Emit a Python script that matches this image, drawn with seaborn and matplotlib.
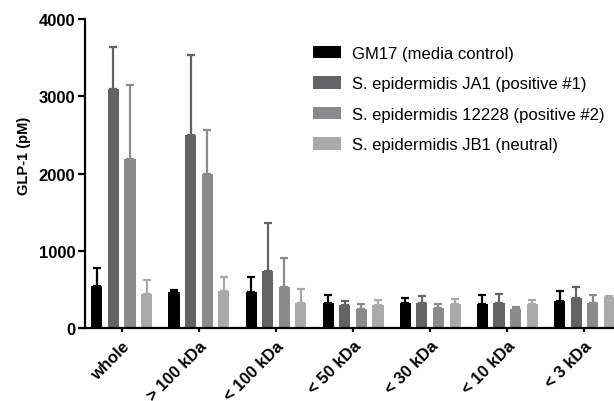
import matplotlib
matplotlib.use("Agg")
import matplotlib.pyplot as plt
import seaborn as sns
import pandas as pd
import numpy as np

categories = ["whole", "> 100 kDa", "< 100 kDa", "< 50 kDa", "< 30 kDa", "< 10 kDa", "< 3 kDa"]
series = ["GM17 (media control)", "S. epidermidis JA1 (positive #1)",
          "S. epidermidis 12228 (positive #2)", "S. epidermidis JB1 (neutral)"]
gm17 = [550, 470, 475, 330, 327, 318, 348]
gm17_err = [230, 30, 190, 95, 60, 108, 134]
ja1 = [3100, 2500, 740, 301, 331, 327, 391]
ja1_err = [540, 1030, 625, 52, 86, 112, 142]
s12228 = [2190, 1990, 530, 254, 267, 254, 331]
s12228_err = [950, 570, 373, 56, 51, 17, 95]
jb1 = [440, 486, 327, 301, 318, 310, 410]
jb1_err = [183, 176, 176, 64, 65, 55, 12]
colors = ["#000000", "#636365", "#8b8b8d", "#aaaaaa"]

vals = [gm17, ja1, s12228, jb1]
errs = [gm17_err, ja1_err, s12228_err, jb1_err]
rows = []
for s, v in zip(series, vals):
    for c, y in zip(categories, v):
        rows.append({"cat": c, "series": s, "val": y})
df = pd.DataFrame(rows)

sns.set_style("white")
plt.rcParams["font.family"] = ["Liberation Sans", "DejaVu Sans"]
plt.rcParams["text.color"] = "black"
plt.rcParams["xtick.color"] = "black"
plt.rcParams["ytick.color"] = "black"
plt.rcParams["axes.labelcolor"] = "black"

fig = plt.figure(figsize=(6.14, 4.02), dpi=100)
ax = fig.add_axes([85/614, 1-329.3/402, 538/614, (329.3-20)/402])

sns.barplot(data=df, x="cat", y="val", hue="series", order=categories,
            hue_order=series, palette=colors, errorbar=None, width=0.86,
            gap=0.33, saturation=1, ax=ax, linewidth=0)

bar_containers = list(ax.containers)
for i, cont in enumerate(bar_containers):
    xs = [p.get_x() + p.get_width()/2 for p in cont.patches]
    hs = [p.get_height() for p in cont.patches]
    ax.errorbar(xs, hs, yerr=[np.zeros(len(hs)), errs[i]], fmt="none",
                ecolor=colors[i], elinewidth=1.6, capsize=3.2, capthick=1.6,
                zorder=1)

ax.set_xlim(-0.476, 6.5)
ax.set_ylim(0, 4000)
ax.set_yticks([0, 1000, 2000, 3000, 4000])
ax.set_yticklabels(["0", "1000", "2000", "3000", "4000"], fontsize=12, fontweight="bold")
ax.set_xticks(range(len(categories)))
ax.set_xticklabels(categories, rotation=45, ha="right", rotation_mode="anchor",
                   fontsize=12, fontweight="bold")
ax.set_xlabel("")
ax.set_ylabel("GLP-1 (pM)", fontsize=10.5, fontweight="bold")
ax.yaxis.set_label_coords(-0.100, 0.56)
sns.despine(ax=ax)
for sp in ["left", "bottom"]:
    ax.spines[sp].set_linewidth(1.6)
    ax.spines[sp].set_color("black")
ax.tick_params(axis="y", direction="out", length=5, width=1.6, left=True, pad=2)
ax.tick_params(axis="x", direction="out", length=3, width=1.6, bottom=True, pad=4)

leg = ax.legend(loc="upper left", bbox_to_anchor=(0.412, 0.935), frameon=False,
                fontsize=12, handlelength=1.65, handleheight=0.76, labelspacing=0.93,
                handletextpad=0.7, borderaxespad=0)

fig.savefig("out.png", dpi=100)
